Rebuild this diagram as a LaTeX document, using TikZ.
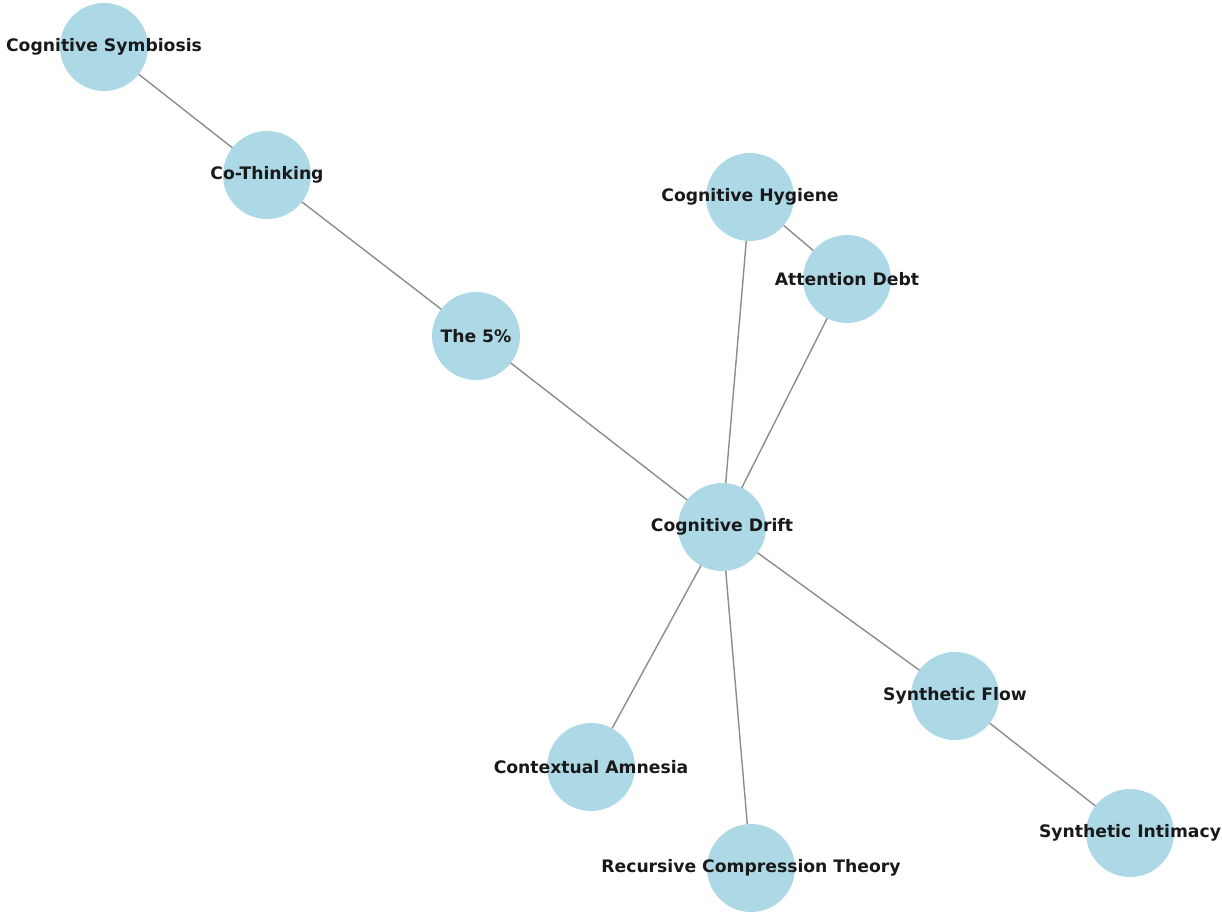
\documentclass[tikz,border=0pt]{standalone}
\usepackage{fontspec}
\setmainfont{DejaVu Sans}
\definecolor{nodeblue}{HTML}{ADD8E6}
\definecolor{edgegray}{HTML}{8C8C8C}
\tikzset{
  cnode/.style={circle, fill=nodeblue, draw=none, minimum size=88pt, inner sep=0pt},
  clabel/.style={font=\bfseries\fontsize{17.2}{20}\selectfont, text=black!90},
  cedge/.style={draw=edgegray, line width=1.4pt}
}
\begin{document}
\begin{tikzpicture}[x=1pt,y=-1pt]
\useasboundingbox (0,0) rectangle (1222,913);
% node positions
\coordinate (sym) at (104,47);
\coordinate (cot) at (267,175);
\coordinate (five) at (476,336);
\coordinate (hyg) at (750,197);
\coordinate (att) at (847,279);
\coordinate (drift) at (722,527);
\coordinate (flow) at (955,696);
\coordinate (intim) at (1130,833);
\coordinate (amn) at (591,767);
\coordinate (rec) at (751,868);
% edges
\path[cedge] (sym) -- (cot);
\path[cedge] (cot) -- (five);
\path[cedge] (five) -- (drift);
\path[cedge] (hyg) -- (drift);
\path[cedge] (hyg) -- (att);
\path[cedge] (att) -- (drift);
\path[cedge] (drift) -- (flow);
\path[cedge] (flow) -- (intim);
\path[cedge] (drift) -- (amn);
\path[cedge] (drift) -- (rec);
% circles and labels
\node[cnode] (nsym) at (sym) {};
\node[cnode] (ncot) at (cot) {};
\node[cnode] (nfive) at (five) {};
\node[cnode] (nhyg) at (hyg) {};
\node[cnode] (natt) at (att) {};
\node[cnode] (ndrift) at (drift) {};
\node[cnode] (nflow) at (flow) {};
\node[cnode] (nintim) at (intim) {};
\node[cnode] (namn) at (amn) {};
\node[cnode] (nrec) at (rec) {};
\node[clabel] (tsym) at (sym) {Cognitive Symbiosis};
\node[clabel] (tcot) at (cot) {Co-Thinking};
\node[clabel] (tfive) at (five) {The 5\%};
\node[clabel] (thyg) at (hyg) {Cognitive Hygiene};
\node[clabel] (tatt) at (att) {Attention Debt};
\node[clabel] (tdrift) at (drift) {Cognitive Drift};
\node[clabel] (tflow) at (flow) {Synthetic Flow};
\node[clabel] (tintim) at (intim) {Synthetic Intimacy};
\node[clabel] (tamn) at (amn) {Contextual Amnesia};
\node[clabel] (trec) at (rec) {Recursive Compression Theory};
\end{tikzpicture}
\end{document}
